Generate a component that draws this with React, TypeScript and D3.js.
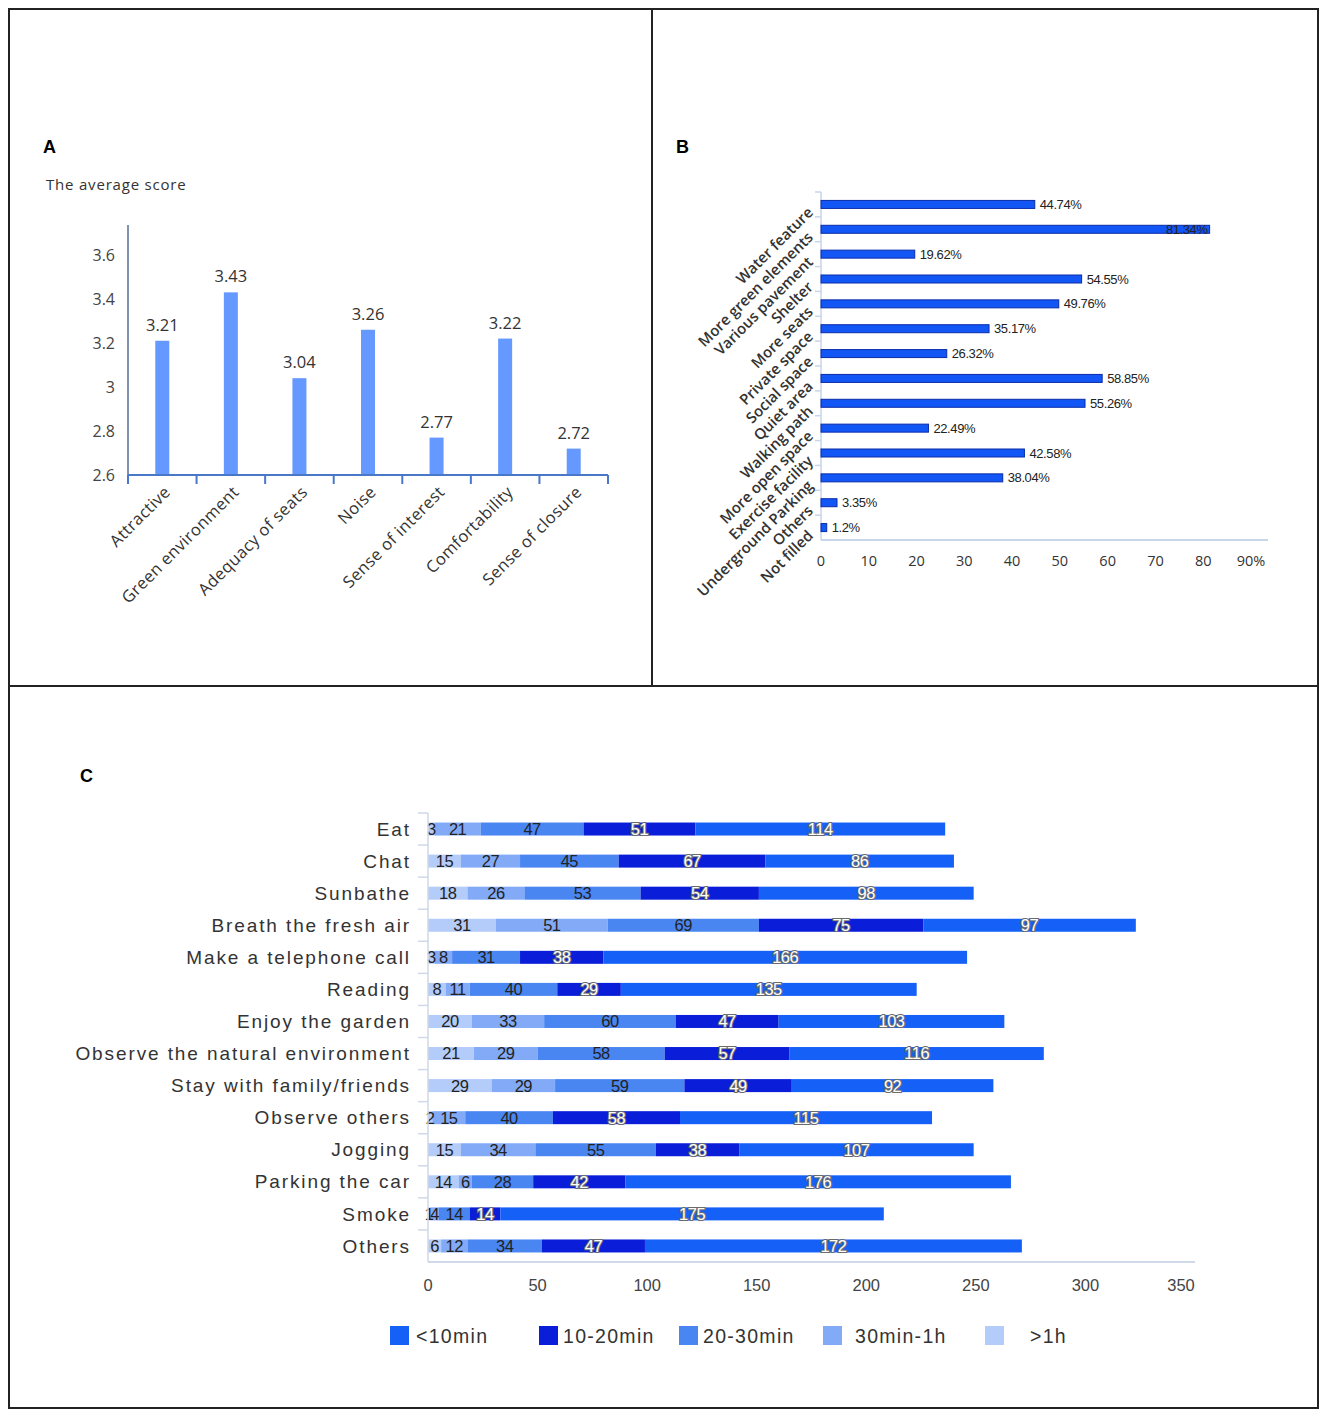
import React from "react";
import * as d3 from "d3";

// ---------- Panel A data ----------
const aCategories = [
  "Attractive",
  "Green environment",
  "Adequacy of seats",
  "Noise",
  "Sense of interest",
  "Comfortability",
  "Sense of closure",
];
const aScores = [3.21, 3.43, 3.04, 3.26, 2.77, 3.22, 2.72];
const aTicks = [2.6, 2.8, 3.0, 3.2, 3.4, 3.6];

// ---------- Panel B data ----------
const bCategories = [
  "Water feature",
  "More green elements",
  "Various pavement",
  "Shelter",
  "More seats",
  "Private space",
  "Social space",
  "Quiet area",
  "Walking path",
  "More open space",
  "Exercise facility",
  "Underground Parking",
  "Others",
  "Not filled",
];
const bPercents = [44.74, 81.34, 19.62, 54.55, 49.76, 35.17, 26.32, 58.85, 55.26, 22.49, 42.58, 38.04, 3.35, 1.2];
const bTicks = [0, 10, 20, 30, 40, 50, 60, 70, 80, 90];

// ---------- Panel C data ----------
const cActivities = [
  "Eat",
  "Chat",
  "Sunbathe",
  "Breath the fresh air",
  "Make a telephone call",
  "Reading",
  "Enjoy the garden",
  "Observe the natural environment",
  "Stay with family/friends",
  "Observe others",
  "Jogging",
  "Parking the car",
  "Smoke",
  "Others",
];
const cOver1h = [3, 15, 18, 31, 3, 8, 20, 21, 29, 2, 15, 14, 1, 6];
const c30to60 = [21, 27, 26, 51, 8, 11, 33, 29, 29, 15, 34, 6, 4, 12];
const c20to30 = [47, 45, 53, 69, 31, 40, 60, 58, 59, 40, 55, 28, 14, 34];
const c10to20 = [51, 67, 54, 75, 38, 29, 47, 57, 49, 58, 38, 42, 14, 47];
const cUnder10 = [114, 86, 98, 97, 166, 135, 103, 116, 92, 115, 107, 176, 175, 172];
const cSeriesNames = [">1h", "30min-1h", "20-30min", "10-20min", "<10min"];
const cSeriesColors = ["#b4ccf9", "#82aaf6", "#4a86f2", "#0a1dd8", "#1560f7"];
const cLegendOrder = ["<10min", "10-20min", "20-30min", "30min-1h", ">1h"];
const cTicks = [0, 50, 100, 150, 200, 250, 300, 350];

// ---------- layout ----------
const W = 1325;
const H = 1415;

function PanelA() {
  const x = d3.scaleBand<string>().domain(aCategories).range([128, 608]);
  const y = d3.scaleLinear().domain([2.6, 3.736]).range([475, 225]);
  const font = "'Open Sans', 'DejaVu Sans', sans-serif";
  const boundaries = aCategories.map((c) => x(c)!).concat([608]);
  return (
    <g>
      <text x={43} y={153} fontFamily="Arial, 'Liberation Sans', sans-serif" fontWeight="bold" fontSize={18}>A</text>
      <text x={46} y={190} fontFamily={font} fontSize={15} fill="#333" letterSpacing={0.8}>The average score</text>
      {aTicks.map((t) => (
        <text key={t} x={115} y={y(t)} dy="0.35em" textAnchor="end" fontFamily={font} fontSize={16} fill="#444">
          {d3.format("~g")(t)}
        </text>
      ))}
      <line x1={128} x2={128} y1={225} y2={475} stroke="#7f93b0" strokeWidth={2} />
      {aCategories.map((c, i) => {
        const cx = x(c)! + x.bandwidth() / 2;
        return (
          <g key={c}>
            <rect x={cx - 7} width={14} y={y(aScores[i])} height={475 - y(aScores[i])} fill="#6699ff" />
            <text x={cx} y={y(aScores[i]) - 10} textAnchor="middle" fontFamily={font} fontSize={16.5} fill="#333">
              {aScores[i].toFixed(2)}
            </text>
            <text
              transform={`translate(${cx + 5},${489}) rotate(-45)`}
              textAnchor="end"
              dy="0.35em"
              fontFamily={font}
              fontSize={16.5}
              letterSpacing={0.4}
              fill="#333"
            >
              {c}
            </text>
          </g>
        );
      })}
      <line x1={128} x2={608} y1={475} y2={475} stroke="#4a78c8" strokeWidth={2} />
      {boundaries.map((b, i) => (
        <line key={i} x1={b} x2={b} y1={475} y2={484} stroke="#4a78c8" strokeWidth={2} />
      ))}
    </g>
  );
}

function PanelB() {
  const x = d3.scaleLinear().domain([0, 90]).range([821, 1251]);
  const y = d3.scaleBand<string>().domain(bCategories).range([192, 540]);
  const font = "'Open Sans', 'DejaVu Sans', sans-serif";
  const axisColor = "#c9d5ea";
  const boundaries = bCategories.map((c) => y(c)!);
  return (
    <g>
      <text x={676} y={153} fontFamily="Arial, 'Liberation Sans', sans-serif" fontWeight="bold" fontSize={18}>B</text>
      <line x1={821} x2={821} y1={192} y2={540} stroke={axisColor} strokeWidth={1.5} />
      {boundaries.map((b, i) => (
        <line key={i} x1={815} x2={821} y1={b} y2={b} stroke={axisColor} strokeWidth={1.5} />
      ))}
      {bCategories.map((c, i) => {
        const cy = y(c)! + y.bandwidth() / 2;
        const end = x(bPercents[i]);
        const inside = bPercents[i] > 75;
        const label = `${bPercents[i]}%`;
        return (
          <g key={c}>
            <rect x={x(0)} y={cy - 4} width={end - x(0)} height={8} fill="#1257f5" stroke="#0a2ca8" strokeWidth={1} />
            <text
              x={inside ? end - 2 : end + 5}
              y={cy}
              dy="0.35em"
              textAnchor={inside ? "end" : "start"}
              fontFamily="'Liberation Sans', Arial, sans-serif"
              fontSize={13}
              letterSpacing={-0.4}
              fill="#222"
            >
              {label}
            </text>
            <text
              transform={`translate(${814},${cy + 9}) rotate(-45)`}
              textAnchor="end"
              fontFamily={font}
              fontWeight={600}
              fontSize={15}
              fill="#333"
            >
              {c}
            </text>
          </g>
        );
      })}
      <line x1={821} x2={1268} y1={540} y2={540} stroke={axisColor} strokeWidth={2} />
      {bTicks.map((t) => (
        <text key={t} x={x(t)} y={566} textAnchor="middle" fontFamily={font} fontSize={14.5} fill="#333">
          {t === 90 ? "90%" : t}
        </text>
      ))}
    </g>
  );
}

function PanelC() {
  const x = d3.scaleLinear().domain([0, 350]).range([428, 1195]);
  const y = d3.scaleBand<string>().domain(cActivities).range([813, 1262]);
  const seriesValues = [cOver1h, c30to60, c20to30, c10to20, cUnder10];
  const rows = cActivities.map((a, i) => {
    const obj: Record<string, any> = { activity: a };
    cSeriesNames.forEach((s, k) => (obj[s] = seriesValues[k][i]));
    return obj;
  });
  const stack = d3.stack<any>().keys(cSeriesNames)(rows);
  const color = d3.scaleOrdinal<string, string>().domain(cSeriesNames).range(cSeriesColors);
  const axisColor = "#d0d9e7";
  const labelFont = "'Liberation Sans', Arial, sans-serif";
  const boundaries = cActivities.map((c) => y(c)!);
  const legendX = [390, 539, 679, 823, 985];
  const legendTextX = [416, 563, 703, 855, 1030];
  const darkSeries = new Set(["10-20min", "<10min"]);
  return (
    <g>
      <text x={80} y={782} fontFamily="Arial, 'Liberation Sans', sans-serif" fontWeight="bold" fontSize={18}>C</text>
      {cActivities.map((a) => (
        <text
          key={a}
          x={411}
          y={y(a)! + y.bandwidth() / 2}
          dy="0.35em"
          textAnchor="end"
          fontFamily={labelFont}
          fontSize={19}
          letterSpacing={1.9}
          fill="#333"
        >
          {a}
        </text>
      ))}
      {stack.map((layer) => (
        <g key={layer.key}>
          {layer.map((d, i) => {
            const cy = y(cActivities[i])! + y.bandwidth() / 2;
            return (
              <rect
                key={i}
                x={x(d[0])}
                width={x(d[1]) - x(d[0])}
                y={cy - 6.5}
                height={13}
                fill={color(layer.key)}
              />
            );
          })}
        </g>
      ))}
      {stack.map((layer) => (
        <g key={"l" + layer.key}>
          {layer.map((d, i) => {
            const cy = y(cActivities[i])! + y.bandwidth() / 2;
            const v = d[1] - d[0];
            const cx = (x(d[0]) + x(d[1])) / 2;
            const dark = darkSeries.has(layer.key);
            return (
              <text
                key={i}
                x={cx}
                y={cy}
                dy="0.36em"
                textAnchor="middle"
                fontFamily={labelFont}
                fontSize={16.5}
                fill={dark ? "#ffffff" : "#222"}
                stroke={dark ? "#6b6b6b" : "none"}
                strokeWidth={dark ? 2.2 : 0}
                paintOrder="stroke"
                letterSpacing={-0.5}
              >
                {v}
              </text>
            );
          })}
        </g>
      ))}
      <line x1={428} x2={428} y1={813} y2={1262} stroke={axisColor} strokeWidth={1.5} />
      {boundaries.map((b, i) => (
        <line key={i} x1={418} x2={428} y1={b} y2={b} stroke={axisColor} strokeWidth={1.5} />
      ))}
      <line x1={428} x2={1195} y1={1262} y2={1262} stroke={axisColor} strokeWidth={2} />
      {cTicks.map((t) => (
        <text key={t} x={Math.min(x(t), 1181)} y={1291} textAnchor="middle" fontFamily={labelFont} fontSize={16.5} fill="#444">
          {t}
        </text>
      ))}
      {cLegendOrder.map((s, i) => (
        <g key={s}>
          <rect x={legendX[i]} y={1326} width={19} height={19} fill={color(s)} />
          <text x={legendTextX[i]} y={1336} dy="0.35em" fontFamily={labelFont} fontSize={19.5} letterSpacing={1.3} fill="#333">
            {s}
          </text>
        </g>
      ))}
    </g>
  );
}

export default function App() {
  return (
    <svg
      width={W}
      height={H}
      viewBox={`0 0 ${W} ${H}`}
      style={{ position: "absolute", left: 0, top: 0, background: "#fff" }}
    >
      <rect x={0} y={0} width={W} height={H} fill="#fff" />
      <PanelA />
      <PanelB />
      <PanelC />
      <rect x={9} y={9} width={1309} height={1399} fill="none" stroke="#222" strokeWidth={2} />
      <line x1={652} x2={652} y1={9} y2={686} stroke="#222" strokeWidth={2} />
      <line x1={9} x2={1318} y1={686} y2={686} stroke="#222" strokeWidth={2} />
    </svg>
  );
}
